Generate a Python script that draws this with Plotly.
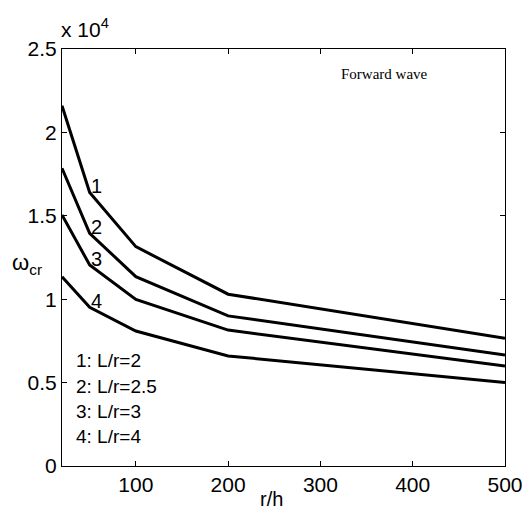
import plotly.graph_objects as go

# data (omega_cr in units of 1e4)
r_h = [20, 50, 100, 200, 500]
w_L2 = [2.16, 1.64, 1.315, 1.03, 0.766]
w_L25 = [1.785, 1.395, 1.135, 0.90, 0.665]
w_L3 = [1.505, 1.205, 0.999, 0.815, 0.600]
w_L4 = [1.135, 0.951, 0.809, 0.66, 0.50]
series = [w_L2, w_L25, w_L3, w_L4]
curve_labels = ["1", "2", "3", "4"]
legend_lines = ["1: L/r=2", "2: L/r=2.5", "3: L/r=3", "4: L/r=4"]
x_ticks = [100, 200, 300, 400, 500]
y_ticks = [0, 0.5, 1, 1.5, 2, 2.5]
y_ticktext = ["0", "0.5", "1", "1.5", "2", "2.5"]

SANS = "Liberation Sans, Arial"

fig = go.Figure()
for s in series:
    fig.add_trace(go.Scatter(x=r_h, y=s, mode="lines",
                             line=dict(color="black", width=3),
                             showlegend=False, hoverinfo="skip"))

# curve number labels near the second point
for lab, s in zip(curve_labels, series):
    fig.add_annotation(x=r_h[1], y=s[1], text=lab, showarrow=False,
                       xanchor="left", yanchor="bottom", xshift=-1, yshift=-7,
                       font=dict(family=SANS, size=20, color="black"))

# legend text
for i, t in enumerate(legend_lines):
    fig.add_annotation(xref="paper", yref="paper", x=0.028, y=0.252 - i * 0.0605,
                       text=t, showarrow=False, xanchor="left", yanchor="middle",
                       font=dict(family=SANS, size=19, color="black"))

fig.add_annotation(xref="paper", yref="paper", x=0.728, y=0.94, text="Forward wave",
                   showarrow=False, xanchor="center", yanchor="middle",
                   font=dict(family="Liberation Serif, Times New Roman", size=15, color="black"))

fig.add_annotation(xref="paper", yref="paper", x=0.0, y=1.0, yshift=6, xshift=-3,
                   text="x 10<sup>4</sup>", showarrow=False, xanchor="left", yanchor="bottom",
                   font=dict(family=SANS, size=21, color="black"))

fig.add_annotation(xref="paper", yref="paper", x=-0.04, y=0.485,
                   text="ω<sub>cr</sub>", showarrow=False, xanchor="right", yanchor="middle",
                   font=dict(family=SANS, size=22, color="black"))

fig.add_annotation(xref="paper", yref="paper", x=0.474, y=0, yshift=-20,
                   text="r/h", showarrow=False, xanchor="center", yanchor="top",
                   font=dict(family=SANS, size=20, color="black"))

axis_common = dict(showgrid=False, zeroline=False, showline=True, linecolor="black",
                   linewidth=1, mirror="ticks", ticks="inside", ticklen=5,
                   tickcolor="black", tickwidth=1, automargin=False,
                   tickfont=dict(family=SANS, size=21, color="black"))

fig.update_xaxes(range=[20, 500], tickvals=x_ticks, **axis_common)
fig.update_yaxes(range=[0, 2.5], tickvals=y_ticks, ticktext=y_ticktext, **axis_common)

fig.update_layout(width=530, height=506, margin=dict(l=62, r=25, t=49, b=40),
                  plot_bgcolor="white", paper_bgcolor="white")

fig.write_html("out.html", config={"displayModeBar": False},
               post_script="document.body.style.margin='0';document.body.style.overflow='hidden';")
